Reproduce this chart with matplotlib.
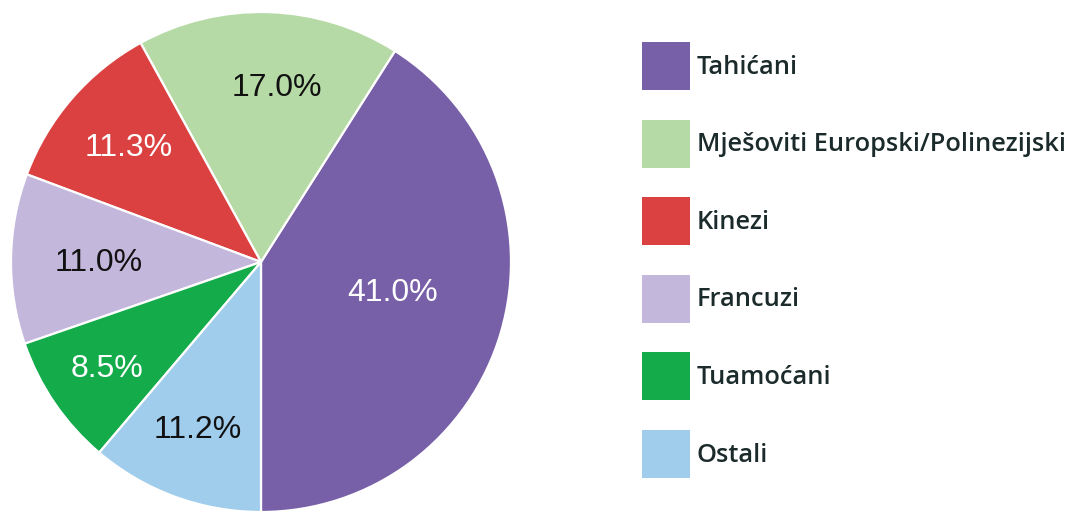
import numpy as np
import matplotlib
matplotlib.use("Agg")
import matplotlib.pyplot as plt
from matplotlib.patches import Rectangle

categories = ["Tahićani", "Mješoviti Europski/Polinezijski", "Kinezi",
              "Francuzi", "Tuamoćani", "Ostali"]
values = [41.0, 17.0, 11.3, 11.0, 8.5, 11.2]
pct_labels = ["41.0%", "17.0%", "11.3%", "11.0%", "8.5%", "11.2%"]

colors = ["#7760a8", "#b6daa6", "#db4141", "#c4b7dc", "#14ab4b", "#a0cdec"]
label_colors = ["white", "#111111", "white", "#111111", "white", "#111111"]
label_frac = [0.54, 0.70, 0.70, 0.65, 0.75, 0.72]
label_dang = [3.0, -3.5, 0.0, 1.0, 0.5, -0.5]

W, H = 1070, 513
fig = plt.figure(figsize=(W / 100, H / 100), dpi=100)
ax = fig.add_axes([0, 0, 1, 1])
ax.set_xlim(0, W)
ax.set_ylim(0, H)
ax.set_aspect("equal")
ax.axis("off")

cx, cy, R = 261, 251, 250
wedges, _ = ax.pie(values, colors=colors, startangle=-90, counterclock=True,
                   center=(cx, cy), radius=R,
                   wedgeprops=dict(edgecolor="white", linewidth=1.6))
ax.set_xlim(0, W)
ax.set_ylim(0, H)

for w, lab, col, fr, da in zip(wedges, pct_labels, label_colors, label_frac, label_dang):
    ang = np.deg2rad((w.theta1 + w.theta2) / 2 + da)
    ax.text(cx + R * fr * np.cos(ang), cy + R * fr * np.sin(ang), lab,
            ha="center", va="center", fontsize=23, color=col,
            family=["Liberation Sans", "DejaVu Sans"])

# legend
lx, ly0, sq, step = 642, H - 42, 48, 77.6
for i, (cat, col) in enumerate(zip(categories, colors)):
    top = ly0 - i * step
    ax.add_patch(Rectangle((lx, top - sq), sq, sq, facecolor=col, edgecolor="none"))
    ax.text(lx + sq + 7, top - sq / 2 - 1, cat, ha="left", va="center",
            fontsize=18.3, color="#1b2a2a", fontweight="semibold",
            family=["Open Sans", "DejaVu Sans"])

fig.savefig("out.png", dpi=100, facecolor="white")
